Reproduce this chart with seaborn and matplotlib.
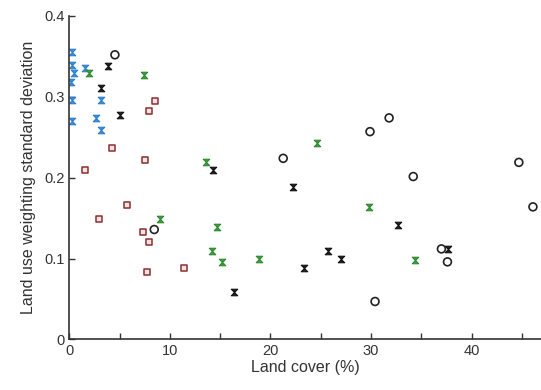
import numpy as np
import pandas as pd
import matplotlib
matplotlib.use("Agg")
import matplotlib.pyplot as plt
from matplotlib.path import Path
import seaborn as sns

# Land cover (%) and land use weighting standard deviation per group
blue_x = [0.24, 0.24, 0.47, 0.17, 0.24, 0.30, 1.56, 3.2, 2.7, 3.2]
blue_y = [0.356, 0.340, 0.329, 0.318, 0.296, 0.270, 0.336, 0.296, 0.274, 0.259]

green_x = [1.96, 7.45, 9.0, 13.6, 14.15, 14.7, 15.15, 18.9, 24.65, 29.8, 34.4]
green_y = [0.329, 0.327, 0.149, 0.220, 0.109, 0.139, 0.096, 0.0996, 0.243, 0.164, 0.098]

black_x = [3.88, 3.2, 5.04, 14.25, 22.2, 16.4, 23.3, 25.75, 27.0, 32.7, 37.7]
black_y = [0.338, 0.311, 0.278, 0.209, 0.188, 0.059, 0.089, 0.109, 0.100, 0.141, 0.112]

circle_x = [4.54, 8.45, 21.27, 29.9, 31.8, 30.4, 34.2, 44.7, 46.1, 37.0, 37.6]
circle_y = [0.352, 0.136, 0.224, 0.257, 0.274, 0.047, 0.2015, 0.219, 0.164, 0.112, 0.096]

square_x = [8.53, 7.95, 4.21, 7.52, 1.56, 5.7, 2.95, 7.36, 7.95, 7.75, 11.4]
square_y = [0.295, 0.283, 0.237, 0.222, 0.209, 0.166, 0.149, 0.133, 0.121, 0.084, 0.088]

x_ticks = [0, 5, 10, 15, 20, 25, 30, 35, 40, 45]
x_labels = ["0", "", "10", "", "20", "", "30", "", "40", ""]
y_ticks = [0, 0.1, 0.2, 0.3, 0.4]
y_labels = ["0", "0.1", "0.2", "0.3", "0.4"]

sns.set_theme(style="white")
plt.rcParams["font.family"] = ["Liberation Sans", "DejaVu Sans"]

# hourglass-shaped cross marker
hourglass = Path([(-1, 1), (1, 1), (-1, -1), (1, -1), (-1, 1)],
                 [Path.MOVETO, Path.LINETO, Path.LINETO, Path.LINETO, Path.CLOSEPOLY])

fig = plt.figure(figsize=(5.41, 3.90), dpi=100)
ax = fig.add_axes([0.128, 0.1295, 0.872, 0.8295])

def frame(x, y):
    return pd.DataFrame({"cover": x, "sd": y})

sns.scatterplot(data=frame(square_x, square_y), x="cover", y="sd", ax=ax,
                marker="s", s=16, color="#f6e3e3", edgecolor="#8a2f2f", linewidth=1.1)
sns.scatterplot(data=frame(blue_x, blue_y), x="cover", y="sd", ax=ax,
                marker=hourglass, s=22, color="#3b8fdc", edgecolor="#2f7fcc", linewidth=0.8)
sns.scatterplot(data=frame(green_x, green_y), x="cover", y="sd", ax=ax,
                marker=hourglass, s=22, color="#3f9e3f", edgecolor="#2f8a2f", linewidth=0.8)
sns.scatterplot(data=frame(black_x, black_y), x="cover", y="sd", ax=ax,
                marker=hourglass, s=22, color="#222222", edgecolor="#111111", linewidth=0.8)
sns.scatterplot(data=frame(circle_x, circle_y), x="cover", y="sd", ax=ax,
                marker="o", s=32, facecolor="none", edgecolor="#222222", linewidth=1.2)

ax.set_xlim(0, 46.9)
ax.set_ylim(0, 0.4)
ax.set_xticks(x_ticks)
ax.set_xticklabels(x_labels)
ax.set_yticks(y_ticks)
ax.set_yticklabels(y_labels)
ax.tick_params(direction="in", length=4, width=1, color="#333333",
               labelsize=10.5, labelcolor="#333333", pad=3,
               bottom=True, left=True)
for side in ("top", "right"):
    ax.spines[side].set_visible(False)
for side in ("left", "bottom"):
    ax.spines[side].set_color("#333333")
    ax.spines[side].set_linewidth(1.2)

ax.set_xlabel("Land cover (%)", fontsize=11.5, color="#333333", labelpad=2)
ax.set_ylabel("Land use weighting standard deviation", fontsize=11.5, color="#333333", labelpad=6)

fig.savefig("out.png", dpi=100)
